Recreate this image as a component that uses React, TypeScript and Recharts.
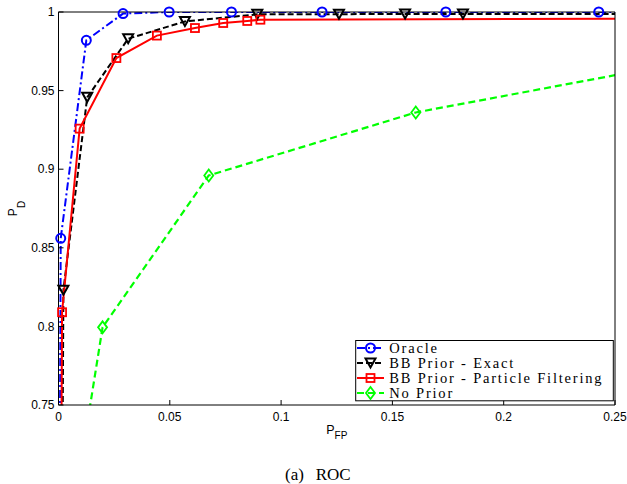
import React from 'react';
import { LineChart, Line, XAxis, YAxis } from 'recharts';

// axis ticks
const xTicks = [0, 0.05, 0.1, 0.15, 0.2, 0.25];
const yTicks = [0.75, 0.8, 0.85, 0.9, 0.95, 1];

// Oracle
const oracleFp = [0, 0.001, 0.0125, 0.029, 0.0497, 0.0777, 0.1184, 0.174, 0.2427, 0.3];
const oraclePd = [0.5, 0.856, 0.982, 0.999, 1.0, 1.0, 1.0, 1.0, 1.0, 1.0];

// BB Prior - Exact
const exactFp = [0.001, 0.0022, 0.0129, 0.0313, 0.0568, 0.0893, 0.126, 0.1557, 0.1817, 0.3];
const exactPd = [0.5, 0.823, 0.9457, 0.983, 0.994, 0.9985, 0.9986, 0.9988, 0.9988, 0.9988];

// BB Prior - Particle Filtering
const pfFp = [0.0005, 0.0016, 0.0095, 0.026, 0.0442, 0.0613, 0.074, 0.0848, 0.0907, 0.3];
const pfPd = [0.5, 0.809, 0.9258, 0.9707, 0.985, 0.9898, 0.993, 0.9943, 0.9951, 0.996];

// No Prior
const noPriorFp = [0.003, 0.0198, 0.0675, 0.1605, 0.33];
const noPriorPd = [0.65, 0.7994, 0.896, 0.9361, 0.981];

const toPoints = (fp: number[], pd: number[]) => fp.map((x, i) => ({ fp: x, pd: pd[i] }));

const inView = (p: { fp: number; pd: number }) =>
  p.fp >= 0 && p.fp <= 0.25 && p.pd >= 0.75 && p.pd <= 1;

type MarkProps = { cx: number; cy: number; color: string };

const CircleMark = ({ cx, cy, color }: MarkProps) => (
  <circle cx={cx} cy={cy} r={4.5} fill="none" stroke={color} strokeWidth={2} />
);
const TriangleMark = ({ cx, cy, color }: MarkProps) => (
  <path
    d={`M${cx - 5},${cy - 4.5} L${cx + 5},${cy - 4.5} L${cx},${cy + 4.5} Z`}
    fill="none"
    stroke={color}
    strokeWidth={2}
  />
);
const SquareMark = ({ cx, cy, color }: MarkProps) => (
  <rect x={cx - 4} y={cy - 4} width={8} height={8} fill="none" stroke={color} strokeWidth={1.8} />
);
const DiamondMark = ({ cx, cy, color }: MarkProps) => (
  <path
    d={`M${cx},${cy - 6} L${cx + 4.5},${cy} L${cx},${cy + 6} L${cx - 4.5},${cy} Z`}
    fill="none"
    stroke={color}
    strokeWidth={1.8}
  />
);

const series = [
  { name: 'Oracle', color: '#0000ff', dash: '8 3 2 3', width: 2, data: toPoints(oracleFp, oraclePd), Mark: CircleMark },
  { name: 'BB Prior - Exact', color: '#000000', dash: '6 3', width: 2, data: toPoints(exactFp, exactPd), Mark: TriangleMark },
  { name: 'BB Prior - Particle Filtering', color: '#ff0000', dash: undefined, width: 2, data: toPoints(pfFp, pfPd), Mark: SquareMark },
  { name: 'No Prior', color: '#00ff00', dash: '7 4', width: 2.2, data: toPoints(noPriorFp, noPriorPd), Mark: DiamondMark },
];

const sans = '"Liberation Sans", Arial, sans-serif';
const serif = '"Liberation Serif", "Times New Roman", serif';
const tickStyle = { fill: '#000', fontSize: 12, fontFamily: sans };

const XLabel = (props: any) => {
  const vb = props.viewBox || {};
  const cx = vb.x + vb.width / 2;
  return (
    <text x={cx} y={vb.y + 28.5} textAnchor="middle" fontFamily={sans} fontSize={12.5} fill="#000">
      P
      <tspan fontSize={10} dy={5.4}>FP</tspan>
    </text>
  );
};

const YLabel = (props: any) => {
  const vb = props.viewBox || {};
  const cy = vb.y + vb.height / 2;
  return (
    <text
      transform={`translate(16.7, ${cy}) rotate(-90)`}
      x={0}
      y={0}
      textAnchor="middle"
      fontFamily={sans}
      fontSize={12}
      fill="#000"
    >
      P
      <tspan fontSize={10} dy={8}>D</tspan>
    </text>
  );
};

const Overlay = () => {
  const left = 355.7;
  const top = 340.5;
  const rowGap = 15;
  return (
    <svg width={627} height={484} style={{ position: 'absolute', left: 0, top: 0, pointerEvents: 'none' }}>
      <rect x={left} y={top} width={257.6} height={60.3} fill="#fff" stroke="#000" strokeWidth={1} />
      {series.map((s, i) => {
        const y = 348 + rowGap * i;
        const M = s.Mark;
        return (
          <g key={s.name}>
            <line x1={357} x2={384} y1={y} y2={y} stroke={s.color} strokeWidth={s.width} strokeDasharray={s.dash} />
            <M cx={370.5} cy={y} color={s.color} />
            <text x={389.3} y={y + 5} fontFamily={serif} fontSize={14.5} letterSpacing={1.8} fill="#000">
              {s.name}
            </text>
          </g>
        );
      })}
      <text x={285} y={480} fontFamily={serif} fontSize={17} fill="#000">
        (a)
      </text>
      <text x={315.7} y={480} fontFamily={serif} fontSize={17} fill="#000">
        ROC
      </text>
    </svg>
  );
};

export default function App() {
  return (
    <div style={{ position: 'absolute', left: 0, top: 0, width: 627, height: 484, background: '#fff' }}>
      <style>{'.recharts-line-dots{clip-path:none !important;}'}</style>
      <LineChart width={627} height={484} margin={{ top: 11, right: 11, bottom: 0, left: 0 }}>
        <XAxis
          xAxisId="b"
          dataKey="fp"
          type="number"
          domain={[0, 0.25]}
          ticks={xTicks}
          allowDataOverflow
          height={79}
          stroke="#000"
          tickLine={{ stroke: '#000' }}
          tickSize={-5}
          tickMargin={12}
          tick={tickStyle}
          interval={0}
          label={<XLabel />}
        />
        <XAxis
          xAxisId="t"
          orientation="top"
          type="number"
          domain={[0, 0.25]}
          ticks={xTicks}
          allowDataOverflow
          height={1}
          stroke="#000"
          tickLine={{ stroke: '#000' }}
          tickSize={-5}
          tick={false}
          interval={0}
        />
        <YAxis
          yAxisId="l"
          type="number"
          domain={[0.75, 1]}
          ticks={yTicks}
          allowDataOverflow
          width={58.5}
          stroke="#000"
          tickLine={{ stroke: '#000' }}
          tickSize={-5}
          tickMargin={9}
          tick={tickStyle}
          interval={0}
          label={<YLabel />}
        />
        <YAxis
          yAxisId="r"
          orientation="right"
          type="number"
          domain={[0.75, 1]}
          ticks={yTicks}
          allowDataOverflow
          width={1}
          stroke="#000"
          tickLine={{ stroke: '#000' }}
          tickSize={-5}
          tick={false}
          interval={0}
        />
        {series.map((s) => (
          <Line
            key={s.name}
            xAxisId="b"
            yAxisId="l"
            data={s.data}
            dataKey="pd"
            name={s.name}
            type="linear"
            stroke={s.color}
            strokeWidth={s.width}
            strokeDasharray={s.dash}
            isAnimationActive={false}
            activeDot={false}
            dot={(p: any) => {
              const M = s.Mark;
              if (!p.payload || !inView(p.payload)) return <g key={`d-${s.name}-${p.index}`} />;
              return (
                <g key={`d-${s.name}-${p.index}`}>
                  <M cx={p.cx} cy={p.cy} color={s.color} />
                </g>
              );
            }}
          />
        ))}
      </LineChart>
      <Overlay />
    </div>
  );
}
